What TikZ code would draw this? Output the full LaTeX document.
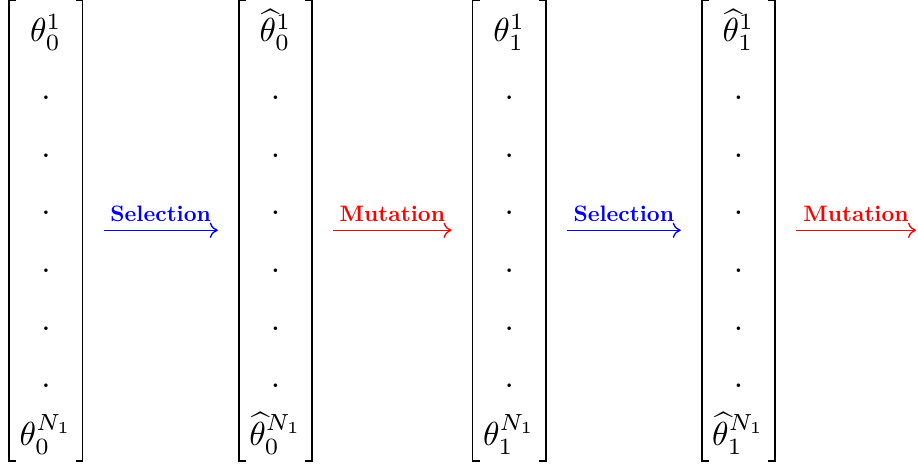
\documentclass[tikz,border=0pt]{standalone}
\usepackage{amsmath}
\usetikzlibrary{arrows.meta}

\begin{document}
\begin{tikzpicture}[
        x=0.3pt, y=0.3pt,
        vec/.style={minimum width=72*0.3pt, minimum height=459.5*0.3pt, inner sep=0pt},
        brk/.style={line width=0.5pt},
        entry/.style={anchor=base, inner sep=0pt},
        step arrow/.style={-{To[length=2.4pt, width=4.6pt]}, shorten <=6.3pt, shorten >=6.3pt},
        sel/.style={step arrow, blue},
        mut/.style={step arrow, red},
        lbl/.style={font=\bfseries, scale=0.67, transform shape, inner sep=0pt, above=3.6pt}
      ]
      \useasboundingbox (0,0) rectangle (918,466);
      % the four population vectors
      \node[vec] (v1) at (45.9,235.75) {};
      \node[vec] (v2) at (275.5,235.75) {};
      \node[vec] (v3) at (509.2,235.75) {};
      \node[vec] (v4) at (738.4,235.75) {};
      \foreach \v in {v1,v2,v3,v4} {
        \draw[brk] ([xshift=2.1pt]\v.north west) -- (\v.north west) -- (\v.south west) -- ([xshift=2.1pt]\v.south west);
        \draw[brk] ([xshift=-2.1pt]\v.north east) -- (\v.north east) -- (\v.south east) -- ([xshift=-2.1pt]\v.south east);
      }
      % entries
      \foreach \v/\x/\first/\last in {v1/45.9/{\theta_0^1}/{\theta_0^{N_1}},
                                      v2/275.5/{\widehat{\theta}_0^1}/{\widehat{\theta}_0^{N_1}},
                                      v3/509.2/{\theta_1^1}/{\theta_1^{N_1}},
                                      v4/738.4/{\widehat{\theta}_1^1}/{\widehat{\theta}_1^{N_1}}} {
        \node[entry] (\v-top) at (\x,424) {$\first$};
        \foreach \k in {1,...,6}
          \node[entry] (\v-dot\k) at (\x,424-57.6*\k) {$.$};
        \node[entry] (\v-bot) at (\x,20.8) {$\last$};
      }
      \coordinate (next) at (937,235.75);
      % steps
      \draw[sel] (v1) -- node[lbl] {Selection} (v2);
      \draw[mut] (v2) -- node[lbl] {Mutation} (v3);
      \draw[sel] (v3) -- node[lbl] {Selection} (v4);
      \draw[mut] (v4) -- node[lbl] {Mutation} (next);
    \end{tikzpicture}
\end{document}
